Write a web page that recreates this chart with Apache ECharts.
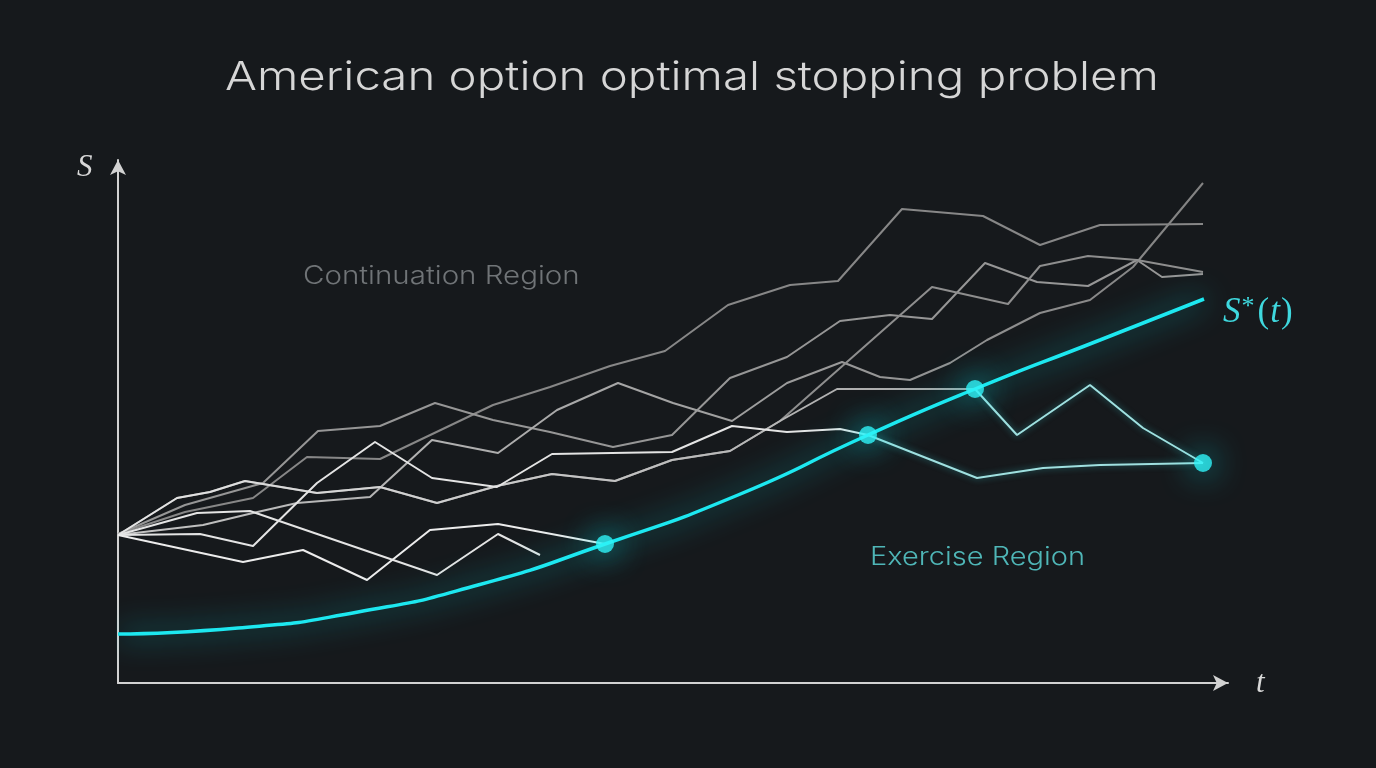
<!DOCTYPE html>
<html>
<head>
<meta charset="utf-8">
<style>
html,body{margin:0;padding:0;background:#16191c;}
#chart{width:1376px;height:768px;}
</style>
<script src="https://cdn.jsdelivr.net/npm/echarts@6/dist/echarts.min.js"></script>
</head>
<body>
<div id="chart"></div>
<script>
// ---- data: [t, S] ----
const pathA = [[0,74],[12.5,60.5],[18.5,66.5],[24.9,51.5],[31.2,76.5],[38,79.5],[48.7,69.5]];
const pathB = [[0,74],[8.2,74.5],[13.5,68.5],[19.9,100],[25.7,120.5],[31.4,102.5],[37.9,98],[43.4,114.5],[55.4,115.5],[61.4,128.5],[66.9,125.5],[72.2,127],[75,124]];
const pathC = [[0,74],[7.9,85],[13.2,86],[31.9,54],[38,74.5],[42.2,64]];
const pathE = [[0,74],[5.9,92.5],[9.2,95.5],[12.7,101],[19.9,95],[26.2,98],[31.9,90],[37.9,98.5],[43.4,104.5],[49.7,101],[55.4,111.5],[61.2,116],[66.2,131],[71.9,147],[84.2,147],[85.7,147]];
const pathH = [[0,74],[5.9,92.5],[9.2,95.5],[12.7,101],[19.9,95],[26.2,98],[31.9,90],[37.9,98.5],[43.4,104.5],[49.7,101],[55.4,111.5],[61.2,116],[66.2,131],[81.4,198],[89,189.5],[92.2,208.5],[97,213.5],[101.9,211.5],[108.5,205.5]];
const pathD = [[0,74],[8.5,79],[13.5,85],[17.9,90],[25.2,93],[31.4,121.5],[38,115],[43.9,136.5],[50,150],[55.5,140],[61.4,131],[66.9,150],[72.4,160.5],[76.2,153],[79.2,151.5],[83.2,160],[86.9,171.5],[92.2,185],[97.2,191.5],[101.5,208],[108.5,250]];
const pathF = [[0,74.5],[6.7,85.5],[13.5,92.5],[18.9,113],[26.2,112],[37.5,139],[43.2,148],[49.2,158.5],[54.7,166],[61,189],[67.2,199],[72,201],[78.4,237],[86.5,233.5],[92.2,219],[98.2,229],[108.5,229.5]];
const pathG = [[0,74.5],[6.7,89],[14.5,100],[20,126],[26.2,128.5],[31.7,140],[37.5,131.5],[43.2,125.5],[49.5,118],[55.4,124],[61.2,152.5],[66.9,163],[72.2,181],[77.2,184],[81.4,182],[86.7,210],[91.9,200.5],[97,198.5],[101.9,211.5],[104.4,203],[108.5,204.5]];
const afterDot2 = [[75,124],[85.9,102.5],[92.5,107.5],[98.2,109],[108.5,110]];
const afterDot3 = [[85.7,147],[89.9,124],[97.2,149],[102.5,127.5],[108.5,110]];
const boundary = [[0,24.5],[12,27.5],[24,35.5],[36,49],[48.7,69.5],[62,94],[75,124],[85.7,147],[98.2,171.5],[108.6,192]];
const exerciseDots = [[48.7,69.5],[75,124],[85.7,147],[108.5,110]];

const titleText = 'American option optimal stopping problem';
const contLabel = 'Continuation Region';
const exerLabel = 'Exercise Region';

const chart = echarts.init(document.getElementById('chart'));

function path(data, color, width, z) {
  return {type:'line', data:data, symbol:'none', silent:true, z:z||2,
    lineStyle:{color:color, width:width||2, join:'round'}, animation:false};
}
function grad(c1, c2) {
  return new echarts.graphic.LinearGradient(0,0,1,0,[{offset:0,color:c1},{offset:1,color:c2}]);
}
const axisCommon = {
  type:'value', axisTick:{show:false}, axisLabel:{show:false}, splitLine:{show:false},
  axisLine:{show:true, symbol:['none','arrow'], symbolSize:[12,15], lineStyle:{color:'#d2d2d2', width:2}}
};

chart.setOption({
  backgroundColor:'#16191c',
  animation:false,
  grid:{left:118, right:148, top:160, bottom:85},
  xAxis:Object.assign({min:0, max:111}, axisCommon),
  yAxis:Object.assign({min:0, max:261.5}, axisCommon),
  graphic:[
    {type:'text', x:692, y:78, scaleX:1.185, style:{text:titleText, fill:'#d6d6d6', font:'300 40px Inter', textAlign:'center', textVerticalAlign:'middle'}},
    {type:'text', x:303, y:276, scaleX:1.18, style:{text:contLabel, fill:'#707477', font:'300 25px Inter', textAlign:'left', textVerticalAlign:'middle'}},
    {type:'text', x:870, y:557, scaleX:1.16, style:{text:exerLabel, fill:'#4fb6b7', font:'300 25px Inter', textAlign:'left', textVerticalAlign:'middle'}},
    {type:'text', x:77, y:168, style:{text:'S', fill:'#d8d8d8', font:'italic 31px "Liberation Serif"', textAlign:'left', textVerticalAlign:'middle'}},
    {type:'text', x:1256, y:684, style:{text:'t', fill:'#d8d8d8', font:'italic 31px "Liberation Serif"', textAlign:'left', textVerticalAlign:'middle'}},
    {type:'text', x:1223, y:313, style:{
      text:'{i|S}{sup|*}{u|(}{i|t}{u|)}', textAlign:'left', textVerticalAlign:'middle',
      rich:{
        i:{fill:'#3fd8de', font:'italic 35px "Liberation Serif"'},
        u:{fill:'#3fd8de', font:'300 35px "Liberation Serif"', padding:[0,1,0,1]},
        sup:{fill:'#3fd8de', font:'26px "Liberation Serif"', padding:[0,2,12,1]}
      }}}
  ],
  series:[
    path(pathF, '#878787', 2, 1),
    path(pathG, '#969696', 2, 1),
    path(pathD, grad('#c4c4c4','#828282'), 2, 1),
    path(pathH, '#8e8e8e', 2, 1),
    path(pathE, grad('#e6e6e6','#a6a6a6'), 2, 2),
    path(pathC, '#e4e4e4', 2, 2),
    path(pathB, '#e4e4e4', 2, 2),
    path(pathA, '#ececec', 2, 2),
    {type:'line', data:afterDot2, symbol:'none', silent:true, z:3,
      lineStyle:{color:'#9fe0e0', width:2, shadowBlur:6, shadowColor:'rgba(60,220,225,0.5)'}},
    {type:'line', data:afterDot3, symbol:'none', silent:true, z:3,
      lineStyle:{color:'#9fe0e0', width:2, shadowBlur:6, shadowColor:'rgba(60,220,225,0.5)'}},
    {type:'line', data:boundary, symbol:'none', silent:true, z:4, smooth:0.6,
      lineStyle:{color:'#1de8f0', width:3.5, shadowBlur:30, shadowColor:'rgba(0,225,235,0.9)'}},
    {type:'scatter', data:exerciseDots, symbol:'circle', symbolSize:18, silent:true, z:5,
      itemStyle:{color:'#30f3f8', shadowBlur:32, shadowColor:'rgba(0,240,250,1)'}}
  ]
});
</script>
</body>
</html>
